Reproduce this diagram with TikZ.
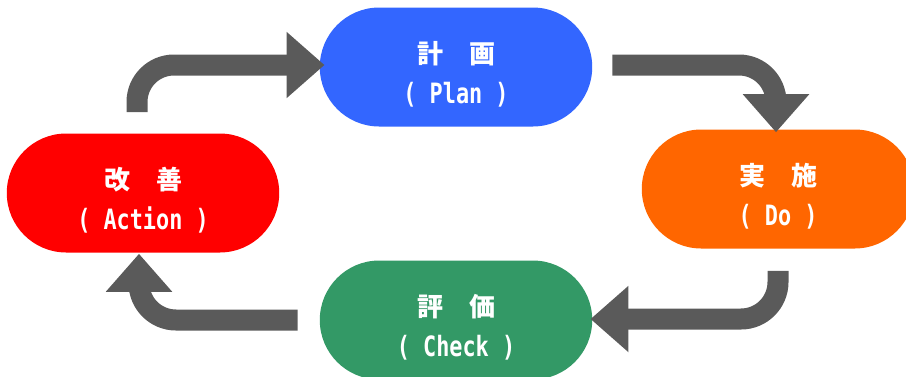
\documentclass[tikz,border=0pt]{standalone}
\usepackage{fontspec}
\newfontfamily\jp{Noto Sans CJK JP}
\newfontfamily\mono[FakeStretch=0.78]{DejaVu Sans Mono}
\usetikzlibrary{shapes.misc,arrows.meta,calc}
\definecolor{planblue}{HTML}{3366FF}
\definecolor{doorange}{HTML}{FF6600}
\definecolor{checkgreen}{HTML}{339966}
\definecolor{actred}{HTML}{FF0000}
\definecolor{arrowgray}{HTML}{5A5A5A}
\newcommand\steptext[2]{\rule{0pt}{27pt}{\jp #1}\\{\fontsize{21pt}{30pt}\mono #2}}
\begin{document}
\begin{tikzpicture}[x=0.75pt, y=-0.75pt,
    box/.style={rounded rectangle, minimum width=211pt, minimum height=89.25pt,
        text=white, align=center, font=\fontsize{19.5pt}{30pt}\selectfont\bfseries},
    flow/.style={draw=arrowgray, line width=15.75pt, rounded corners=27.75pt,
        -{Triangle[width=48pt, length=28.5pt]}}]
        \useasboundingbox (0, 0) rectangle (906, 376);

        \draw (456, 67) node[box, fill=planblue](plan){\steptext{計　画}{( Plan )}}
        (778, 189) node[box, fill=doorange](doit){\steptext{実　施}{( Do )}}
        (456, 320) node[box, fill=checkgreen](check){\steptext{評　価}{( Check )}}
        (143, 193) node[box, fill=actred](act){\steptext{改　善}{( Action )}};

        \draw[flow] ($(act.north)+(-6, -21)$) |- ($(plan.west)+(5, -2)$);
        \draw[flow] ($(plan.east)+(20, -2)$) -| ($(doit.north)+(-2, 3)$);
        \draw[flow] ($(doit.south)+(0, 22)$) |- ($(check.east)+(-2, -1)$);
        \draw[flow] ($(check.west)+(-22, 0)$) -| ($(act.south)+(-4, 1)$);
    \end{tikzpicture}
\end{document}
